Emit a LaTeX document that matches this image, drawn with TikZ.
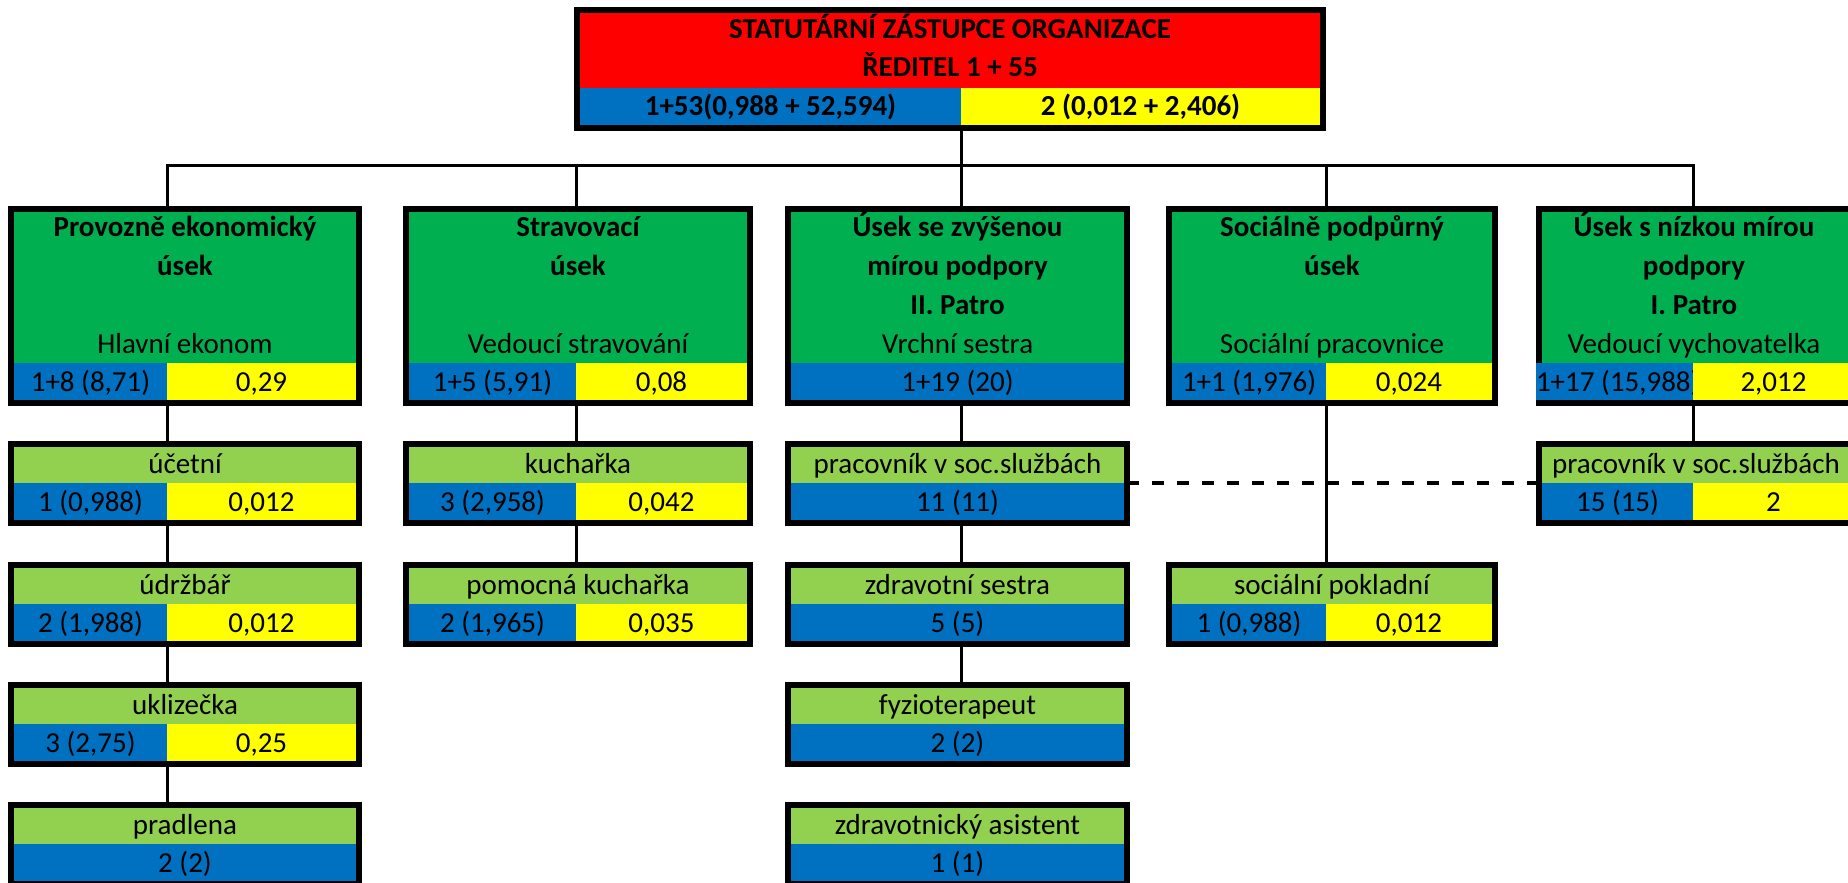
\documentclass[tikz,border=0pt]{standalone}
\usepackage{fontspec}
\setmainfont{Carlito}
\usepackage{tikz}
\definecolor{headred}{HTML}{FF0000}
\definecolor{secgreen}{HTML}{00B050}
\definecolor{subgreen}{HTML}{92D050}
\definecolor{cellblue}{HTML}{0070C0}
\definecolor{cellyellow}{HTML}{FFFF00}

\begin{document}
\begin{tikzpicture}[x=0.5pt,y=-0.5pt,
  font=\fontsize{14.5}{19.5}\selectfont,
  frame/.style={draw=black,line width=3pt,inner sep=0pt,outer sep=0pt,anchor=north west},
  secbox/.style={frame,fill=secgreen,minimum height=97pt},
  subbox/.style={frame,fill=subgreen,minimum height=39.5pt},
  cell/.style={inner sep=0pt,outer sep=0pt,anchor=north west,minimum height=18.5pt,
    text height=10pt,text depth=0.5pt},
  bluecell/.style={cell,fill=cellblue},
  yellowcell/.style={cell,fill=cellyellow},
  heading/.style={font=\fontsize{14.5}{19.5}\selectfont\bfseries,align=center,anchor=base},
  lead/.style={anchor=base},
  conn/.style={line width=1.5pt},
  dashline/.style={line width=2pt,dash pattern=on 6pt off 6.5pt}]
  \useasboundingbox (0,0) rectangle (1848,883);
  \clip (0,0) rectangle (1848,883);
  % director
  \node[frame,fill=headred,minimum width=373pt,minimum height=59pt] (top) at (577,10) {};
  \node[heading,font=\fontsize{14.5}{19}\selectfont\bfseries] (toptitle) at (950,77)
    {STATUTÁRNÍ ZÁSTUPCE ORGANIZACE\\ŘEDITEL 1 + 55};
  \node[bluecell,minimum width=190.5pt,font=\fontsize{14.5}{19.5}\selectfont\bfseries] (topb)
    at (580,88) {1+53(0,988 + 52,594)};
  \node[yellowcell,minimum width=179.5pt,font=\fontsize{14.5}{19.5}\selectfont\bfseries] (topy)
    at (961,88) {2 (0,012 + 2,406)};
  % sections
  \node[secbox,minimum width=174pt] (s1) at (11,209) {};
  \node[heading] (s1t) at (185,275) {Provozně ekonomický\\úsek};
  \node[lead] (s1l) at (185,353) {Hlavní ekonom};
  \node[bluecell,minimum width=76.5pt] (s1b) at (14,363) {1+8 (8,71)};
  \node[yellowcell,minimum width=94.5pt] (s1y) at (167,363) {0,29};

  \node[secbox,minimum width=172pt] (s2) at (406,209) {};
  \node[heading] (s2t) at (578,275) {Stravovací\\úsek};
  \node[lead] (s2l) at (578,353) {Vedoucí stravování};
  \node[bluecell,minimum width=83.5pt] (s2b) at (409,363) {1+5 (5,91)};
  \node[yellowcell,minimum width=85.5pt] (s2y) at (576,363) {0,08};

  \node[secbox,minimum width=169.5pt] (s3) at (788,209) {};
  \node[heading] (s3t) at (957.5,314) {Úsek se zvýšenou\\mírou podpory\\II. Patro};
  \node[lead] (s3l) at (957.5,353) {Vrchní sestra};
  \node[bluecell,minimum width=166.5pt] (s3b) at (791,363) {1+19 (20)};

  \node[secbox,minimum width=163pt] (s4) at (1169,209) {};
  \node[heading] (s4t) at (1332,275) {Sociálně podpůrný\\úsek};
  \node[lead] (s4l) at (1332,353) {Sociální pracovnice};
  \node[bluecell,minimum width=77pt] (s4b) at (1172,363) {1+1 (1,976)};
  \node[yellowcell,minimum width=83pt] (s4y) at (1326,363) {0,024};

  \node[secbox,minimum width=159pt] (s5) at (1539,209) {};
  \node[heading] (s5t) at (1694,314) {Úsek s nízkou mírou\\podpory\\I. Patro};
  \node[lead] (s5l) at (1694,353) {Vedoucí vychovatelka};
  \node[bluecell,minimum width=78.5pt] (s5b) at (1536,363) {1+17 (15,988)};
  \node[yellowcell,minimum width=80.5pt] (s5y) at (1693,363) {2,012};
  % staff, first section
  \node[subbox,minimum width=174pt] (u11) at (11,444) {};
  \node[lead] at (185,473) {účetní};
  \node[bluecell,minimum width=76.5pt] (u11b) at (14,483) {1 (0,988)};
  \node[yellowcell,minimum width=94.5pt] (u11y) at (167,483) {0,012};
  \node[subbox,minimum width=174pt] (u12) at (11,565) {};
  \node[lead] at (185,594) {údržbář};
  \node[bluecell,minimum width=76.5pt] (u12b) at (14,604) {2 (1,988)};
  \node[yellowcell,minimum width=94.5pt] (u12y) at (167,604) {0,012};
  \node[subbox,minimum width=174pt] (u13) at (11,685) {};
  \node[lead] at (185,714) {uklizečka};
  \node[bluecell,minimum width=76.5pt] (u13b) at (14,724) {3 (2,75)};
  \node[yellowcell,minimum width=94.5pt] (u13y) at (167,724) {0,25};
  \node[subbox,minimum width=174pt] (u14) at (11,805) {};
  \node[lead] at (185,834) {pradlena};
  \node[bluecell,minimum width=171pt] (u14b) at (14,844) {2 (2)};
  % staff, kitchen
  \node[subbox,minimum width=172pt] (u21) at (406,444) {};
  \node[lead] at (578,473) {kuchařka};
  \node[bluecell,minimum width=83.5pt] (u21b) at (409,483) {3 (2,958)};
  \node[yellowcell,minimum width=85.5pt] (u21y) at (576,483) {0,042};
  \node[subbox,minimum width=172pt] (u22) at (406,565) {};
  \node[lead] at (578,594) {pomocná kuchařka};
  \node[bluecell,minimum width=83.5pt] (u22b) at (409,604) {2 (1,965)};
  \node[yellowcell,minimum width=85.5pt] (u22y) at (576,604) {0,035};
  % staff, second floor
  \node[subbox,minimum width=169.5pt] (u31) at (788,444) {};
  \node[lead] at (957.5,473) {pracovník v soc.službách};
  \node[bluecell,minimum width=166.5pt] (u31b) at (791,483) {11 (11)};
  \node[subbox,minimum width=169.5pt] (u32) at (788,565) {};
  \node[lead] at (957.5,594) {zdravotní sestra};
  \node[bluecell,minimum width=166.5pt] (u32b) at (791,604) {5 (5)};
  \node[subbox,minimum width=169.5pt] (u33) at (788,685) {};
  \node[lead] at (957.5,714) {fyzioterapeut};
  \node[bluecell,minimum width=166.5pt] (u33b) at (791,724) {2 (2)};
  \node[subbox,minimum width=169.5pt] (u34) at (788,805) {};
  \node[lead] at (957.5,834) {zdravotnický asistent};
  \node[bluecell,minimum width=166.5pt] (u34b) at (791,844) {1 (1)};
  % staff, social
  \node[subbox,minimum width=163pt] (u41) at (1169,565) {};
  \node[lead] at (1332,594) {sociální pokladní};
  \node[bluecell,minimum width=77pt] (u41b) at (1172,604) {1 (0,988)};
  \node[yellowcell,minimum width=83pt] (u41y) at (1326,604) {0,012};
  % staff, first floor
  \node[subbox,minimum width=159pt] (u51) at (1539,444) {};
  \node[lead] at (1696,473) {pracovník v soc.službách};
  \node[bluecell,minimum width=75.5pt] (u51b) at (1542,483) {15 (15)};
  \node[yellowcell,minimum width=80.5pt] (u51y) at (1693,483) {2};
  % connectors
  \coordinate (bus) at (961,166);
  \draw[conn] (top.south -| topy.west) -- (bus);
  \draw[conn] (s1.north -| s1y.west) |- (bus) -| (s5.north -| s5y.west);
  \draw[conn] (s2.north -| s2y.west) -- (s2y.west |- bus);
  \draw[conn] (s3.north -| bus) -- (bus);
  \draw[conn] (s4.north -| s4y.west) -- (s4y.west |- bus);
  \draw[conn] (s1.south -| s1y.west) -- (u11.north -| s1y.west);
  \draw[conn] (u11.south -| s1y.west) -- (u12.north -| s1y.west);
  \draw[conn] (u12.south -| s1y.west) -- (u13.north -| s1y.west);
  \draw[conn] (u13.south -| s1y.west) -- (u14.north -| s1y.west);
  \draw[conn] (s2.south -| s2y.west) -- (u21.north -| s2y.west);
  \draw[conn] (u21.south -| s2y.west) -- (u22.north -| s2y.west);
  \draw[conn] (s3.south -| bus) -- (u31.north -| bus);
  \draw[conn] (u31.south -| bus) -- (u32.north -| bus);
  \draw[conn] (u32.south -| bus) -- (u33.north -| bus);
  \draw[conn] (s4.south -| s4y.west) -- (u41.north -| s4y.west);
  \draw[conn] (s5.south -| s5y.west) -- (u51.north -| s5y.west);
  \draw[dashline] (u31.east |- u31b.north) -- (u51.west |- u31b.north);
\end{tikzpicture}
\end{document}
